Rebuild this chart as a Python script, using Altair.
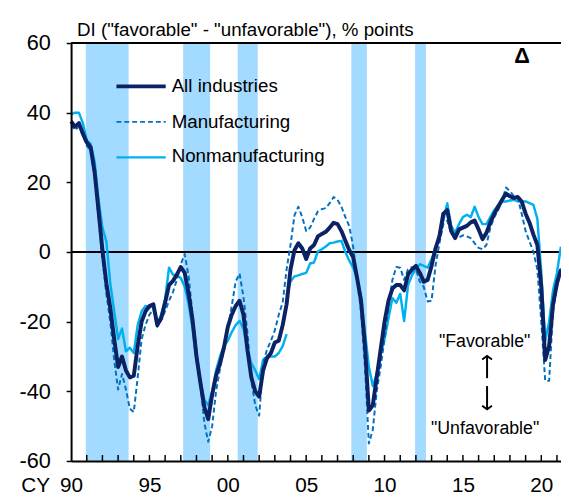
import altair as alt
import pandas as pd

# ---------------- data (quarterly, 1990Q1 .. 2021Q2) ----------------
START_YEAR = 1990
ALL_INDUSTRIES = [
    37.5, 36, 37, 34, 31.5, 30, 23, 12, 0.5, -9,
    -16, -25, -33, -30, -34, -36, -35.5, -27, -20, -17,
    -15.5, -15, -21, -19, -14.5, -9.5, -8.3, -6.5, -4.3, -6,
    -12, -19.5, -30, -37.5, -44.5, -48, -41, -35.5, -32, -27.5,
    -21.5, -18, -15.5, -14, -18, -28, -36, -40, -41.5, -34,
    -30.5, -29, -26, -25.5, -21, -15, -5, 0.5, 2.5, 1,
    -2, 1, 2, 4.5, 5.2, 5.8, 7, 8.4, 8, 6,
    3.2, 0.5, -1.5, -7.5, -14, -27, -45.5, -44, -36, -28,
    -20, -14, -10.5, -9.5, -9.5, -11, -6.5, -5, -4, -6,
    -8.5, -8, -4, 1, 4.5, 11, 12, 6, 4, 6.5,
    7, 7.5, 8.5, 9, 6.5, 3.7, 5.5, 8.5, 11, 13,
    15, 16.8, 16, 15.5, 15.8, 14.5, 11, 8.4, 5, 2,
    -10, -31, -27, -15, -9, -5,
]
MANUFACTURING = [
    36.5, 35, 36, 33.5, 30.5, 29, 22, 10, -2, -12,
    -20, -31, -39.5, -35, -39.5, -45, -46, -36, -25, -21,
    -18, -16.5, -21.5, -19.5, -17, -14, -11.5, -8, -3.5, -0.6,
    -7, -18, -28, -38, -49, -54.5, -50, -40, -33.5, -28,
    -22, -15.5, -8.5, -6.2, -13, -23, -37, -44, -47, -32,
    -28, -25.5, -22.5, -18, -14.5, -5, 2, 10.5, 13, 10,
    6, 7, 9.5, 11.7, 12.3, 12.6, 14, 15.8, 15, 13,
    10, 7.4, 1.5, -8, -17, -33, -55, -51, -40, -33,
    -25, -16, -8, -4.3, -4.5, -8, -5, -4.3, -5, -8.5,
    -10, -14.2, -14, -4, 2.5, 8, 9, 5.5, 4.8, 4.2,
    4.8, 4.5, 4, 2.5, 1.2, 0.8, 2, 7, 10, 12,
    14.8, 18.5, 17.5, 16, 15.5, 11, 6, 3, 0, -5,
    -20, -37, -37, -17, -10, -4.5,
]
NONMANUFACTURING = [
    39.5, 40, 40, 37, 32, 31, 26, 15, 7, 3,
    -9, -17, -25, -22, -28.5, -27.5, -29, -21, -17, -15.5,
    -16, -15.3, -20.5, -18, -13.5, -4.5, -6.5, -6.7, -7.5, -10,
    -15, -22, -31, -37, -42.5, -44, -40, -34, -30, -27,
    -25.5, -23, -21, -19.8, -22, -28, -32, -34, -36.5, -31,
    -30, -30, -30, -29, -27, -23.6, -8.5, -7, -6.7, -6.3,
    -6, -3.3, -3, 0.2, 0.8, 1.6, 2.5, 2.7, 3, 3.2,
    0, -2.5, -4.5, -7.5, -13, -23, -33, -38.5, -35, -29.5,
    -25, -19, -13.2, -14.6, -12, -19.8, -9.5, -6.7, -4.8, -3.5,
    -4, -4.5, -2, 1, 5, 9, 14, 7.5, 5.5, 8,
    10, 10.7, 10, 13, 10, 8, 8, 10, 12, 13.5,
    14.5, 14.5, 14.8, 15, 14.5, 14.5, 14.5, 14, 13.5, 9.5,
    -6, -25.5, -20, -11, -6, 1.5,
]
NONMANUFACTURING_NEW_BASIS_2003Q4 = -12.3   # survey revision (new basis) value
BREAK_QUARTER = 55                           # 2003Q4

RECESSION_START = [1990.94, 1997.15, 2000.63, 2007.88, 2011.95]
RECESSION_END = [1993.67, 1998.87, 2001.91, 2008.87, 2012.64]

Y_TICKS = [-60, -40, -20, 0, 20, 40, 60]
X_LABEL_YEARS = [1990, 1995, 2000, 2005, 2010, 2015, 2020]
X_TICK_YEARS = list(range(1991, 2022))
ZERO = [0]

SUBTITLE = 'DI ("favorable" - "unfavorable"),  % points'
LEGEND_NAMES = ["All industries", "Manufacturing", "Nonmanufacturing"]

# ---------------- styling ----------------
NAVY, MID, LIGHT, BAND = "#0b2265", "#0070c0", "#00b0f0", "#a3daff"
FONT = "Liberation Sans"
W, H = 497, 424
PX_PER_YEAR = 15.9
X_MAX = START_YEAR + W / PX_PER_YEAR


def qt(i):
    return START_YEAR + i / 4


rows = []
for i, v in enumerate(ALL_INDUSTRIES):
    rows.append({"t": qt(i), "v": v, "s": "all", "seg": 0, "o": i})
for i, v in enumerate(MANUFACTURING):
    rows.append({"t": qt(i), "v": v, "s": "mfg", "seg": 0, "o": i})
for i, v in enumerate(NONMANUFACTURING):
    rows.append({"t": qt(i), "v": v, "s": "non", "seg": 0 if i <= BREAK_QUARTER else 1, "o": i})
rows.append({"t": qt(BREAK_QUARTER), "v": NONMANUFACTURING_NEW_BASIS_2003Q4,
             "s": "non", "seg": 1, "o": BREAK_QUARTER})
df = pd.DataFrame(rows)

bands_df = pd.DataFrame({"start": RECESSION_START, "end": RECESSION_END})
ticks_df = pd.DataFrame({"yr": X_TICK_YEARS})
zero_df = pd.DataFrame({"z": ZERO})
one = pd.DataFrame({"a": [0]})

xscale = alt.Scale(domain=[START_YEAR, X_MAX], nice=False, zero=False)
yscale = alt.Scale(domain=[-60, 60], nice=False, zero=False)

x_axis = alt.Axis(values=X_LABEL_YEARS,
                  labelExpr="substring(toString(datum.value), 2, 4)",
                  ticks=False, tickSize=0, labelFlush=False, labelOverlap=False,
                  labelPadding=31, labelBaseline="alphabetic",
                  labelFontSize=21, labelFont=FONT, labelColor="black",
                  domainColor="black", domainWidth=2, grid=False,
                  title=None, zindex=1)
y_axis = alt.Axis(values=Y_TICKS, labelExpr="toString(datum.value)",
                  tickSize=5, tickWidth=1.5, tickColor="black",
                  domainColor="black", domainWidth=2, labelFontSize=22,
                  labelFont=FONT, labelColor="black", labelPadding=16,
                  labelFlush=False, labelOverlap=False, grid=False,
                  title=None, zindex=1)


def X(field):
    return alt.X(field, scale=xscale, axis=x_axis)


def Y(field):
    return alt.Y(field, scale=yscale, axis=y_axis)


bands = alt.Chart(bands_df).mark_rect(color=BAND).encode(
    x=X("start:Q"), x2="end:Q", y=alt.value(0), y2=alt.value(H))

top_line = alt.Chart(one).mark_rule(color="black", strokeWidth=2).encode(
    x=alt.value(0), x2=alt.value(W), y=alt.value(0))

zero_line = alt.Chart(zero_df).mark_rule(color="black", strokeWidth=2).encode(
    x=alt.value(0), x2=alt.value(W), y=Y("z:Q"))

year_ticks = alt.Chart(ticks_df).mark_rule(color="black", strokeWidth=1.5).encode(
    x=X("yr:Q"), y=alt.value(H), y2=alt.value(H - 6))

base = alt.Chart(df)
line_non = base.transform_filter("datum.s == 'non'").mark_line(
    color=LIGHT, strokeWidth=2.5, strokeJoin="round").encode(
    x=X("t:Q"), y=Y("v:Q"), detail="seg:N", order="o:Q")
line_mfg = base.transform_filter("datum.s == 'mfg'").mark_line(
    color=MID, strokeWidth=2, strokeDash=[5, 3], strokeJoin="round").encode(
    x=X("t:Q"), y=Y("v:Q"), order="o:Q")
line_all = base.transform_filter("datum.s == 'all'").mark_line(
    color=NAVY, strokeWidth=4, strokeJoin="round").encode(
    x=X("t:Q"), y=Y("v:Q"), order="o:Q")


def txt(text, x, y, size=19, align="left", weight="normal"):
    return alt.Chart(one).mark_text(font=FONT, fontSize=size, align=align,
                                    baseline="alphabetic", color="black",
                                    fontWeight=weight).encode(
        x=alt.value(x), y=alt.value(y), text=alt.value(text))


def leg_rule(y, color, width, dash=None):
    kw = dict(color=color, strokeWidth=width)
    if dash:
        kw["strokeDash"] = dash
    return alt.Chart(one).mark_rule(**kw).encode(
        x=alt.value(46), x2=alt.value(96), y=alt.value(y))


legend = [
    leg_rule(44, NAVY, 4), txt(LEGEND_NAMES[0], 102, 49.5),
    leg_rule(80, MID, 2, [5, 3]), txt(LEGEND_NAMES[1], 102, 86),
    leg_rule(116, LIGHT, 2.5), txt(LEGEND_NAMES[2], 102, 120.5),
]

arrow_x = 422
arrows = [
    alt.Chart(one).mark_rule(color="black", strokeWidth=2).encode(
        x=alt.value(arrow_x), y=alt.value(318), y2=alt.value(340)),
    alt.Chart(one).mark_rule(color="black", strokeWidth=2).encode(
        x=alt.value(arrow_x), y=alt.value(348), y2=alt.value(371)),
    alt.Chart(one).mark_point(shape="M-1,0.7L0,0L1,0.7", filled=False, size=100,
                              color="black", strokeWidth=2, opacity=1).encode(
        x=alt.value(arrow_x), y=alt.value(317.5)),
    alt.Chart(one).mark_point(shape="M-1,-0.7L0,0L1,-0.7", filled=False, size=100,
                              color="black", strokeWidth=2, opacity=1).encode(
        x=alt.value(arrow_x), y=alt.value(371.5)),
]

annotations = [
    txt(SUBTITLE, 6, -7, 19),
    txt("CY", -36, 455, 21, "center"),
    txt('"Favorable"', 419.5, 308, 18, "center"),
    txt('"Unfavorable"', 420, 397, 18, "center"),
    txt("Δ", 457.5, 20, 22, "center", "bold"),
]

chart = alt.layer(
    bands, top_line, year_ticks, zero_line, line_non, line_mfg, line_all,
    *legend, *arrows, *annotations,
).properties(
    width=W, height=H,
    autosize=alt.AutoSizeParams(type="none"),
    padding={"left": 64, "top": 32, "right": 0, "bottom": 32},
).configure_view(stroke=None).configure(font=FONT)

chart.save("out.html", embed_options={"renderer": "svg", "actions": False})
